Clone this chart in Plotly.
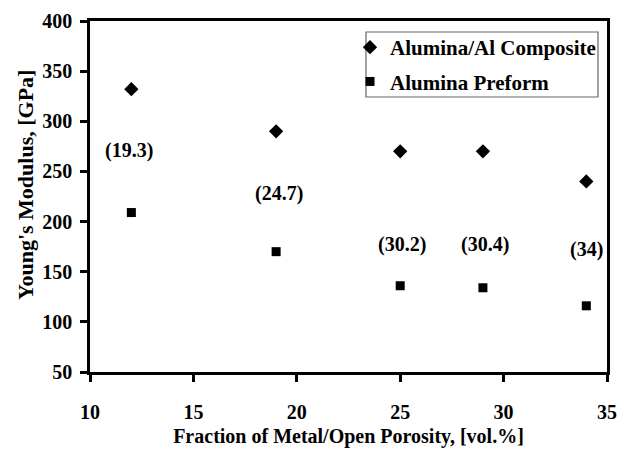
import plotly.graph_objects as go

x_vals = [12, 19, 25, 29, 34]
composite = [332, 290, 270, 270, 240]
preform = [209, 170, 136, 134, 116]
label_x = [11.9, 19.15, 25.1, 29.1, 34.0]
label_y = [271, 228, 177, 177, 172]
labels = ["(19.3)", "(24.7)", "(30.2)", "(30.4)", "(34)"]

FONT = "Liberation Serif"
BOLD = "bold"

# plot area in reference pixels: x 90..607, y 21..372
def xp(X):
    return (X - 90) / 517.0

def yp(Y):
    return (372 - Y) / 351.0

fig = go.Figure()
fig.add_trace(go.Scatter(x=x_vals, y=composite, mode="markers", name="Alumina/Al Composite",
                         legendgroup="a",
                         marker=dict(symbol="diamond", size=11, color="black")))
fig.add_trace(go.Scatter(x=x_vals, y=preform, mode="markers", name="Alumina Preform",
                         legendgroup="b",
                         marker=dict(symbol="square", size=9, color="black")))

for lx, ly, t in zip(label_x, label_y, labels):
    fig.add_annotation(x=lx, y=ly, text=t, showarrow=False,
                       font=dict(family=FONT, size=20, color="black", weight=BOLD))

axis_common = dict(showline=True, linecolor="black", linewidth=2.5, mirror=True,
                   ticks="outside", ticklen=7, tickwidth=2.5, tickcolor="black",
                   showgrid=False, zeroline=False, automargin=False,
                   tickfont=dict(family=FONT, size=20, color="black", weight=BOLD))

fig.update_xaxes(range=[10, 35], dtick=5, ticklabelstandoff=13,
                 title=dict(text="Fraction of Metal/Open Porosity, [vol.%]",
                            font=dict(family=FONT, size=20, color="black", weight=BOLD),
                            standoff=8),
                 **axis_common)
fig.update_yaxes(range=[50, 400], dtick=50, ticklabelstandoff=4, **axis_common)

# y-axis title
fig.add_annotation(xref="paper", yref="paper", x=xp(25), y=yp(185),
                   xanchor="center", yanchor="middle", showarrow=False, textangle=-90,
                   text="Young's Modulus, [GPa]",
                   font=dict(family=FONT, size=22, color="black", weight=BOLD))

# legend frame
fig.add_shape(type="rect", xref="paper", yref="paper",
              x0=xp(366), x1=xp(598), y0=yp(97), y1=yp(32),
              line=dict(color="#666666", width=1.2), fillcolor="rgba(0,0,0,0)", layer="above")

fig.update_layout(
    width=632, height=451,
    margin=dict(l=82, r=33, t=13, b=87),
    plot_bgcolor="white", paper_bgcolor="white",
    legend=dict(x=xp(350), y=yp(27), xanchor="left", yanchor="top",
                borderwidth=0, bgcolor="rgba(0,0,0,0)",
                font=dict(family=FONT, size=21, color="black", weight=BOLD),
                itemwidth=30, tracegroupgap=4),
    showlegend=True,
)

fig.write_html("out.html")
